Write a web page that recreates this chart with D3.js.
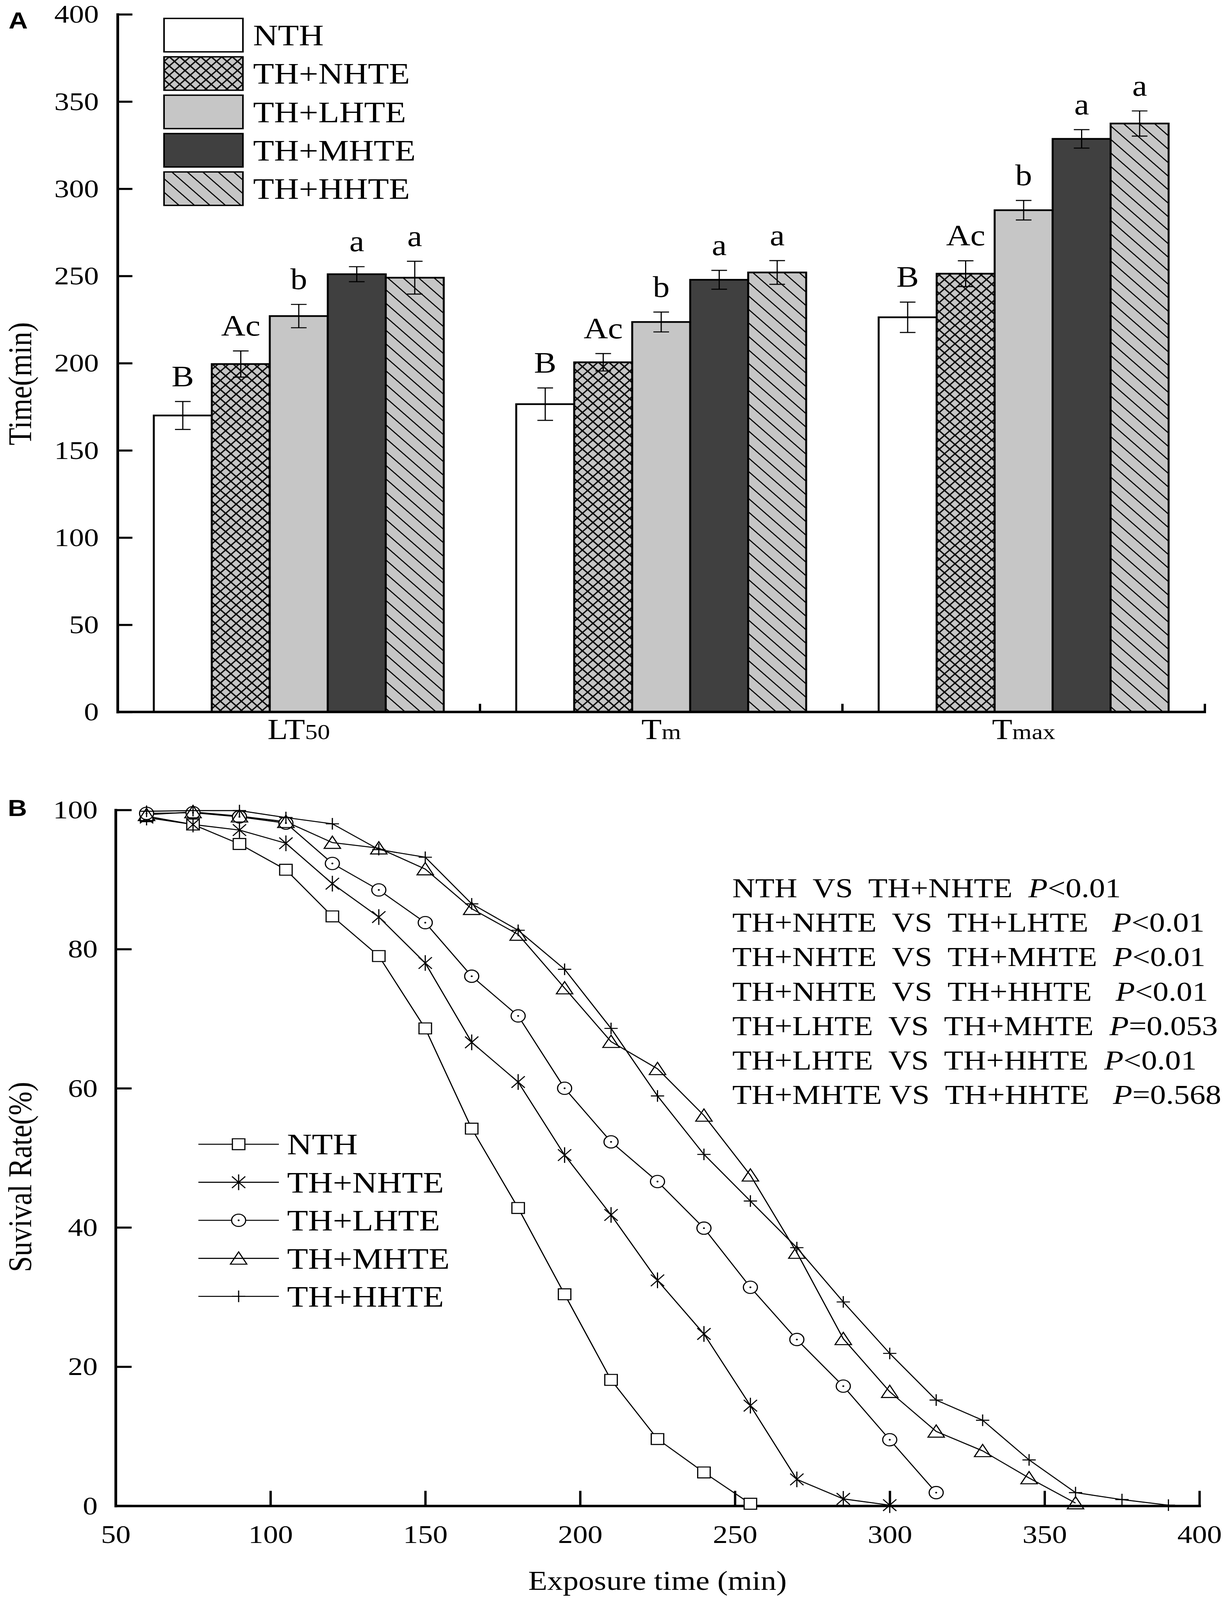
<!DOCTYPE html>
<html>
<head>
<meta charset="utf-8">
<script src="https://cdn.jsdelivr.net/npm/d3@7"></script>
<style>
  html, body { margin: 0; padding: 0; background: #fff; overflow: hidden; }
  svg { display: block; width: 100vw; height: 100vh; font-family: "Liberation Serif", "Times New Roman", serif; }
</style>
</head>
<body>
<div id="chart"></div>
<script>
// ---- Panel A data (bar chart) ----
const groups = ["LT50", "Tm", "Tmax"];
const groupMain = ["LT", "T", "T"];
const groupSub = ["50", "m", "max"];
const treatments = ["NTH", "TH+NHTE", "TH+LHTE", "TH+MHTE", "TH+HHTE"];
const meanLT50 = [170, 199.5, 227, 251, 249];
const meanTm = [176.5, 200.5, 223.6, 247.8, 252];
const meanTmax = [226.3, 251.3, 287.7, 328.6, 337.4];
const errLT50 = [8, 7.5, 6.7, 4.3, 9.4];
const errTm = [9.3, 5, 5.7, 5.4, 6.8];
const errTmax = [8.7, 7.4, 5.6, 5.3, 7.2];
const letters = ["B", "Ac", "b", "a", "a"];
const ticksA = [0, 50, 100, 150, 200, 250, 300, 350, 400];

// ---- Panel B data (survival curves) ----
const times = [60, 75, 90, 105, 120, 135, 150, 165, 180, 195, 210, 225, 240, 255,
               270, 285, 300, 315, 330, 345, 360, 375, 390];
const survNTH = [99.1, 97.9, 95.1, 91.4, 84.7, 79.0, 68.6, 54.2, 42.8, 30.4, 18.1, 9.6, 4.8, 0.3];
const survNHTE = [98.9, 97.9, 97.1, 95.2, 89.4, 84.6, 78.0, 66.6, 60.9, 50.4, 41.8, 32.4, 24.7, 14.4,
                  3.8, 1.0, 0.1];
const survLHTE = [99.5, 99.6, 99.0, 98.1, 92.3, 88.5, 83.8, 76.1, 70.4, 60.0, 52.3, 46.6, 39.9, 31.4,
                  23.9, 17.2, 9.5, 1.9];
const survMHTE = [99.3, 99.7, 99.1, 98.3, 95.3, 94.5, 91.5, 85.8, 82.1, 74.4, 66.7, 62.8, 56.1, 47.5,
                  36.4, 24.0, 16.4, 10.7, 7.9, 4.0, 0.4];
const survHHTE = [99.8, 99.9, 99.9, 98.9, 98.0, 94.3, 93.2, 86.5, 82.7, 77.1, 68.6, 58.9, 50.5, 43.8,
                  37.1, 29.3, 21.9, 15.2, 12.3, 6.6, 1.9, 0.9, 0.1];
const markerTypes = ["square", "asterisk", "circle", "triangle", "plus"];
const ticksBx = [50, 100, 150, 200, 250, 300, 350, 400];
const ticksBy = [0, 20, 40, 60, 80, 100];

// Pairwise comparisons (text block)
const cmpLabels = [
  "NTH  VS  TH+NHTE  ",
  "TH+NHTE  VS  TH+LHTE   ",
  "TH+NHTE  VS  TH+MHTE  ",
  "TH+NHTE  VS  TH+HHTE   ",
  "TH+LHTE  VS  TH+MHTE  ",
  "TH+LHTE  VS  TH+HHTE  ",
  "TH+MHTE VS  TH+HHTE   "
];
const cmpP = ["<0.01", "<0.01", "<0.01", "<0.01", "=0.053", "<0.01", "=0.568"];

// ---- Setup ----
const width = 3134;
const height = 4690;
const lightGray = "#c6c6c6";
const darkGray = "#404040";

const svg = d3.select("#chart").append("svg")
    .attr("viewBox", `0 0 ${width} ${height}`)
    .attr("preserveAspectRatio", "none");

svg.append("rect").attr("width", width).attr("height", height).attr("fill", "#fff");

// hatch patterns
const defs = svg.append("defs");
const cross = defs.append("pattern")
    .attr("id", "crossHatch")
    .attr("patternUnits", "userSpaceOnUse")
    .attr("width", 19).attr("height", 19)
    .attr("patternTransform", "rotate(45)");
cross.append("rect").attr("width", 19).attr("height", 19).attr("fill", lightGray);
cross.append("path").attr("d", "M0,9.5H19M9.5,0V19")
    .attr("stroke", "#000").attr("stroke-width", 3.5);

const diag = defs.append("pattern")
    .attr("id", "diagHatch")
    .attr("patternUnits", "userSpaceOnUse")
    .attr("width", 28).attr("height", 28)
    .attr("patternTransform", "rotate(45)");
diag.append("rect").attr("width", 28).attr("height", 28).attr("fill", lightGray);
diag.append("path").attr("d", "M0,14H28")
    .attr("stroke", "#000").attr("stroke-width", 3);

const fills = ["#fff", "url(#crossHatch)", lightGray, darkGray, "url(#diagHatch)"];

// ================= Panel A =================
const gA = svg.append("g");

const yA = d3.scaleLinear().domain([0, 400]).range([2087, 42]);
const xGroup = d3.scaleBand().domain(groups).range([301, 3085])
    .paddingInner(0.2).paddingOuter(0.1);
const xTreat = d3.scaleBand().domain(treatments).range([0, xGroup.bandwidth()]);

const means = [meanLT50, meanTm, meanTmax];
const errs = [errLT50, errTm, errTmax];
const bars = groups.flatMap((g, gi) => treatments.map((t, ti) => ({
  g, t, ti, mean: means[gi][ti], err: errs[gi][ti], letter: letters[ti]
})));

gA.selectAll("rect.bar")
  .data(bars)
  .enter().append("rect")
    .attr("class", "bar")
    .attr("x", d => xGroup(d.g) + xTreat(d.t))
    .attr("y", d => yA(d.mean))
    .attr("width", xTreat.bandwidth())
    .attr("height", d => yA(0) - yA(d.mean))
    .attr("fill", d => fills[d.ti])
    .attr("stroke", "#000")
    .attr("stroke-width", 5);

// error bars
const eb = gA.selectAll("g.err")
  .data(bars)
  .enter().append("g")
    .attr("class", "err")
    .attr("transform", d => `translate(${xGroup(d.g) + xTreat(d.t) + xTreat.bandwidth() / 2},0)`)
    .attr("stroke", "#000")
    .attr("stroke-width", 3);
eb.append("line").attr("y1", d => yA(d.mean - d.err)).attr("y2", d => yA(d.mean + d.err));
eb.append("line").attr("x1", -20).attr("x2", 20)
    .attr("y1", d => yA(d.mean + d.err)).attr("y2", d => yA(d.mean + d.err));
eb.append("line").attr("x1", -20).attr("x2", 20)
    .attr("y1", d => yA(d.mean - d.err)).attr("y2", d => yA(d.mean - d.err));

// significance letters
gA.selectAll("text.letter")
  .data(bars)
  .enter().append("text")
    .attr("class", "letter")
    .attr("x", d => xGroup(d.g) + xTreat(d.t) + xTreat.bandwidth() / 2)
    .attr("y", d => yA(d.mean + d.err) - 45)
    .attr("text-anchor", "middle")
    .style("font-size", "86px")
    .text(d => d.letter);

// y axis
const yAxisA = d3.axisLeft(yA).tickValues(ticksA).tickSize(-38).tickSizeOuter(0).tickPadding(48);
const gyA = gA.append("g").attr("transform", "translate(301,0)").call(yAxisA);
styleAxis(gyA);

// x axis (line plus ticks between groups)
gA.append("line")
    .attr("x1", 298).attr("x2", xGroup.range()[1] + 3)
    .attr("y1", yA(0)).attr("y2", yA(0))
    .attr("stroke", "#000").attr("stroke-width", 7);
const bounds = groups.slice(1).map(g => xGroup(g) - xGroup.step() * xGroup.paddingInner() / 2)
    .concat([xGroup.range()[1]]);
gA.selectAll("line.gtick")
  .data(bounds)
  .enter().append("line")
    .attr("class", "gtick")
    .attr("x1", d => d).attr("x2", d => d)
    .attr("y1", yA(0)).attr("y2", yA(0) - 24)
    .attr("stroke", "#000").attr("stroke-width", 6);

// category labels
const catLab = gA.selectAll("text.cat")
  .data(groups)
  .enter().append("text")
    .attr("class", "cat")
    .attr("x", d => xGroup(d) + xGroup.bandwidth() / 2)
    .attr("y", 2166)
    .attr("text-anchor", "middle");
catLab.append("tspan").style("font-size", "85px").text((d, i) => groupMain[i]);
catLab.append("tspan").style("font-size", "64px").text((d, i) => groupSub[i]);

// y title
gA.append("text")
    .attr("transform", "translate(80,1125) rotate(-90)")
    .attr("text-anchor", "middle")
    .style("font-size", "84px")
    .text("Time(min)");

// legend A
const legA = gA.selectAll("g.legA")
  .data(treatments)
  .enter().append("g")
    .attr("class", "legA")
    .attr("transform", (d, i) => `translate(420,${54 + i * 112.5})`);
legA.append("rect")
    .attr("width", 202).attr("height", 98)
    .attr("fill", (d, i) => fills[i])
    .attr("stroke", "#000").attr("stroke-width", 4);
legA.append("text")
    .attr("x", 228).attr("y", 79)
    .style("font-size", "88px")
    .text(d => d);

// panel tag
svg.append("text").attr("x", 22).attr("y", 84)
    .style("font-family", "'Liberation Sans', Arial, sans-serif")
    .style("font-weight", "bold").style("font-size", "68px")
    .text("A");

// ================= Panel B =================
const gB = svg.append("g");

const xB = d3.scaleLinear().domain([50, 400]).range([296, 3071]);
const yB = d3.scaleLinear().domain([0, 100]).range([4414, 2374]);

const xAxisB = d3.axisBottom(xB).tickValues(ticksBx).tickSize(-44).tickSizeOuter(0).tickPadding(55);
const gxB = gB.append("g").attr("transform", `translate(0,${yB(0)})`).call(xAxisB);
styleAxis(gxB);

const yAxisB = d3.axisLeft(yB).tickValues(ticksBy).tickSize(-41).tickSizeOuter(0).tickPadding(46);
const gyB = gB.append("g").attr("transform", `translate(${xB(50)},0)`).call(yAxisB);
styleAxis(gyB);

const series = [survNTH, survNHTE, survLHTE, survMHTE, survHHTE].map((vals, i) => ({
  name: treatments[i],
  marker: markerTypes[i],
  points: vals.map((v, j) => ({ t: times[j], v }))
}));

const line = d3.line().x(d => xB(d.t)).y(d => yB(d.v));

gB.selectAll("path.curve")
  .data(series)
  .enter().append("path")
    .attr("class", "curve")
    .attr("d", d => line(d.points))
    .attr("fill", "none")
    .attr("stroke", "#000")
    .attr("stroke-width", 3);

function markerPath(type) {
  const p = d3.path();
  if (type === "square") {
    p.rect(-16, -16, 32, 32);
  } else if (type === "asterisk") {
    p.moveTo(0, -23); p.lineTo(0, 23);
    p.moveTo(-17, -17); p.lineTo(17, 17);
    p.moveTo(17, -17); p.lineTo(-17, 17);
  } else if (type === "circle") {
    p.moveTo(18, 0); p.arc(0, 0, 18, 0, 2 * Math.PI);
  } else if (type === "triangle") {
    p.moveTo(0, -19); p.lineTo(21, 17); p.lineTo(-21, 17); p.closePath();
  } else {
    p.moveTo(-17, 0); p.lineTo(17, 0);
    p.moveTo(0, -17); p.lineTo(0, 17);
  }
  return p.toString();
}

function drawMarker(sel, type) {
  sel.append("path")
    .attr("d", markerPath(type))
    .attr("fill", (type === "square" || type === "circle") ? "#fff" : "none")
    .attr("stroke", "#000")
    .attr("stroke-width", 3);
  if (type === "circle") {
    sel.append("circle").attr("r", 2.5).attr("fill", "#000");
  }
}

series.forEach(s => {
  gB.append("g").selectAll("g")
    .data(s.points)
    .enter().append("g")
      .attr("transform", d => `translate(${xB(d.t)},${yB(d.v)})`)
      .each(function() { drawMarker(d3.select(this), s.marker); });
});

// legend B
const legB = gB.selectAll("g.legB")
  .data(series)
  .enter().append("g")
    .attr("class", "legB")
    .attr("transform", (d, i) => `translate(508,${3354 + i * 111.5})`);
legB.append("line").attr("x1", 0).attr("x2", 206)
    .attr("stroke", "#000").attr("stroke-width", 3);
legB.append("g").attr("transform", "translate(103,0)")
    .each(function(d) { drawMarker(d3.select(this), d.marker); });
legB.append("text")
    .attr("x", 227).attr("y", 30)
    .style("font-size", "88px")
    .text(d => d.name);

// comparison block
const cmp = gB.selectAll("text.cmp")
  .data(cmpLabels)
  .enter().append("text")
    .attr("class", "cmp")
    .attr("x", 1875)
    .attr("y", (d, i) => 2630 + i * 101)
    .style("font-size", "81px")
    .style("white-space", "pre")
    .attr("xml:space", "preserve");
cmp.append("tspan").text(d => d);
cmp.append("tspan").style("font-style", "italic").text("P");
cmp.append("tspan").text((d, i) => cmpP[i]);

// axis titles
gB.append("text")
    .attr("transform", "translate(80,3450) rotate(-90)")
    .attr("text-anchor", "middle")
    .style("font-size", "84px")
    .text("Suvival Rate(%)");
gB.append("text")
    .attr("x", xB(225)).attr("y", 4660)
    .attr("text-anchor", "middle")
    .style("font-size", "80px")
    .text("Exposure time (min)");

svg.append("text").attr("x", 20).attr("y", 2392)
    .style("font-family", "'Liberation Sans', Arial, sans-serif")
    .style("font-weight", "bold").style("font-size", "68px")
    .text("B");

function styleAxis(g) {
  g.attr("font-family", null).attr("font-size", null);
  g.select(".domain").attr("stroke-width", 7).attr("stroke-linecap", "square");
  g.selectAll(".tick line").attr("stroke-width", 6);
  g.selectAll(".tick text")
    .style("font-family", "'Liberation Serif', 'Times New Roman', serif")
    .style("font-size", "76px");
}
</script>
</body>
</html>
